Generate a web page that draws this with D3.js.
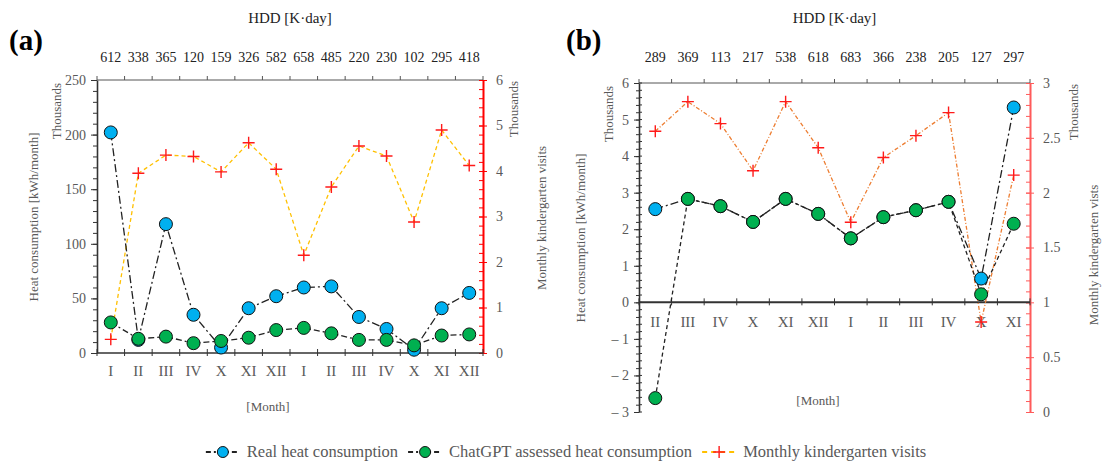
<!DOCTYPE html>
<html>
<head>
<meta charset="utf-8">
<script src="https://cdn.jsdelivr.net/npm/d3@7"></script>
<style>
  body { margin: 0; background: #fff; }
  svg, text { font-family: "Liberation Serif", "Times New Roman", serif; }
</style>
</head>
<body>
<script>
// ---- data: panel (a) ----
const monthsA = ["I", "II", "III", "IV", "X", "XI", "XII", "I", "II", "III", "IV", "X", "XI", "XII"];
const hddA = [612, 338, 365, 120, 159, 326, 582, 658, 485, 220, 230, 102, 295, 418];
const realA = [202, 12, 118, 35, 5, 41, 52, 60, 61, 33, 22, 3, 41, 55];
const gptA = [28, 13, 15, 9, 11, 14, 21, 23, 18, 12, 12, 7, 16, 17];
const visitsA = [0.3, 3.95, 4.35, 4.32, 3.98, 4.62, 4.04, 2.15, 3.65, 4.55, 4.33, 2.88, 4.9, 4.12];

// ---- data: panel (b) ----
const monthsB = ["II", "III", "IV", "X", "XI", "XII", "I", "II", "III", "IV", "X", "XI"];
const hddB = [289, 369, 113, 217, 538, 618, 683, 366, 238, 205, 127, 297];
const realB = [2.55, 2.83, 2.63, 2.2, 2.83, 2.42, 1.75, 2.33, 2.52, 2.75, 0.65, 5.33];
const gptB = [-2.62, 2.83, 2.63, 2.2, 2.83, 2.42, 1.75, 2.33, 2.52, 2.75, 0.22, 2.15];
const visitsB = [2.56, 2.83, 2.63, 2.2, 2.83, 2.41, 1.73, 2.32, 2.52, 2.73, 0.82, 2.16];

const legendLabels = ["Real heat consumption", "ChatGPT assessed heat consumption", "Monthly kindergarten visits"];

var svg = d3.select("body").append("svg")
    .attr("width", 1102)
    .attr("height", 461);

var grey = "#595959";
var serif = "Liberation Serif";

function cross(g, color) {
    g.append("path")
        .attr("d", "M-6,0H6M0,-6V6")
        .attr("stroke", color)
        .attr("stroke-width", 1.4);
}

function drawPanel(p) {
    var x = d3.scaleBand()
        .domain(d3.range(p.months.length))
        .range([p.left, p.right]);
    var y = d3.scaleLinear().domain(p.yDomain).range([p.bottom, p.top]);
    var y2 = d3.scaleLinear().domain(p.y2Domain).range([p.bottom, p.top]);
    var cx = function(d, i) { return x(i) + x.bandwidth() / 2; };

    var g = svg.append("g");

    // panel letter
    g.append("text")
        .attr("x", p.letterX).attr("y", 50)
        .style("font-size", "29px").style("font-weight", "bold")
        .text(p.letter);

    // HDD title + values on top
    g.append("text")
        .attr("x", (p.left + p.right) / 2).attr("y", 23)
        .attr("text-anchor", "middle")
        .style("font-size", "15px").attr("fill", "#222")
        .text("HDD [K·day]");

    g.selectAll(".hdd").data(p.hdd).enter().append("text")
        .attr("x", cx).attr("y", 62)
        .attr("text-anchor", "middle")
        .style("font-size", "14px").attr("fill", "#222")
        .text(function(d) { return d; });

    // top axis (HDD) line with ticks at band edges
    var edges = d3.range(p.months.length + 1).map(function(i) {
        return i < p.months.length ? x(i) : p.right;
    });
    g.append("line")
        .attr("x1", p.left).attr("x2", p.right)
        .attr("y1", p.top).attr("y2", p.top)
        .attr("stroke", "#555").attr("stroke-width", 1);
    g.selectAll(".ttick").data(edges).enter().append("line")
        .attr("x1", function(d) { return d; }).attr("x2", function(d) { return d; })
        .attr("y1", p.top - 4).attr("y2", p.top)
        .attr("stroke", "#555");

    // left axis: minor ticks, then major ticks with labels
    var left = g.append("g").attr("transform", "translate(" + p.left + ",0)")
        .call(d3.axisLeft(y).tickValues(d3.range(p.yDomain[0], p.yDomain[1] + 0.001, p.minorStep))
            .tickSize(p.leftTick).tickFormat(""));
    left.select(".domain").remove();
    left.selectAll("line").attr("stroke", "#333");
    var leftMajor = g.append("g").attr("transform", "translate(" + p.left + ",0)")
        .call(d3.axisLeft(y).tickValues(d3.range(p.yDomain[0], p.yDomain[1] + 0.001, p.majorStep))
            .tickSize(p.leftTick + 2).tickSizeOuter(0).tickPadding(5)
            .tickFormat(function(d) { return d < 0 ? "\u2013 " + Math.abs(d) : d; }));
    leftMajor.selectAll("line").attr("stroke", "#333");
    leftMajor.select(".domain").attr("stroke", "#333").attr("stroke-width", 1.6);
    leftMajor.selectAll("text").attr("fill", grey).style("font-size", "14px").style("font-family", serif);
    if (p.crossTicks) {
        g.selectAll(".ctick").data(d3.range(p.yDomain[0], p.yDomain[1] + 0.001, p.minorStep)).enter().append("line")
            .attr("x1", p.left).attr("x2", p.left + 3)
            .attr("y1", function(d) { return y(d); }).attr("y2", function(d) { return y(d); })
            .attr("stroke", "#333");
    }

    // right axis (visits)
    var right = g.append("g").attr("transform", "translate(" + p.right + ",0)")
        .call(d3.axisRight(y2).tickValues(d3.range(p.y2Domain[0], p.y2Domain[1] + 0.001, p.y2Minor))
            .tickSize(-4).tickSizeOuter(0).tickFormat(""));
    var rightMajor = g.append("g").attr("transform", "translate(" + p.right + ",0)")
        .call(d3.axisRight(y2).tickValues(d3.range(p.y2Domain[0], p.y2Domain[1] + 0.001, p.y2Major))
            .tickSize(-5).tickSizeOuter(0).tickPadding(13)
            .tickFormat(function(d) { return d3.format("~g")(d); }));
    right.selectAll("line").attr("stroke", p.redAxis);
    right.select(".domain").attr("stroke", p.redAxis).attr("stroke-width", 1.6);
    rightMajor.selectAll("line").attr("stroke", p.redAxis).attr("x2", 4).attr("x1", -4);
    rightMajor.select(".domain").attr("stroke", p.redAxis).attr("stroke-width", 1.6);
    rightMajor.selectAll("text").attr("fill", grey).style("font-size", "14px").style("font-family", serif);

    // category axis
    var y0 = y(p.xAxisAt);
    g.append("line")
        .attr("x1", p.left).attr("x2", p.right)
        .attr("y1", y0).attr("y2", y0)
        .attr("stroke", "#333").attr("stroke-width", p.xAxisWidth);
    g.selectAll(".btick").data(edges).enter().append("line")
        .attr("x1", function(d) { return d; }).attr("x2", function(d) { return d; })
        .attr("y1", y0 - 4).attr("y2", y0 + 3)
        .attr("stroke", "#333");
    g.selectAll(".mlab").data(p.months).enter().append("text")
        .attr("x", cx).attr("y", y0 + p.monthDy)
        .attr("text-anchor", "middle")
        .style("font-size", "15px").attr("fill", grey)
        .text(function(d) { return d; });
    g.append("text")
        .attr("x", p.monthTitleX).attr("y", p.monthTitleY)
        .attr("text-anchor", "middle")
        .style("font-size", "13px").attr("fill", grey)
        .text("[Month]");

    // axis titles
    function vtitle(tx, ty, txt) {
        g.append("text")
            .attr("transform", "translate(" + tx + "," + ty + ") rotate(-90)")
            .attr("text-anchor", "middle")
            .attr("dy", "0.35em")
            .style("font-size", "13px").attr("fill", grey)
            .text(txt);
    }
    vtitle(p.left - p.leftThousands, p.top + 31, "Thousands");
    vtitle(p.leftTitleX, p.leftTitleY, "Heat consumption [kWh/month]");
    vtitle(p.right + p.rightThousands, p.top + 29, "Thousands");
    vtitle(p.rightTitleX, p.rightTitleY, p.rightTitle);

    // lines
    var lineY = d3.line().x(cx).y(function(d) { return y(d); });
    var lineY2 = d3.line().x(cx).y(function(d) { return y2(d); });

    g.append("path").datum(p.visits)
        .attr("d", lineY2).attr("fill", "none")
        .attr("stroke", p.visitColor).attr("stroke-width", 1.3)
        .attr("stroke-dasharray", p.visitDash);
    g.append("path").datum(p.real)
        .attr("d", lineY).attr("fill", "none")
        .attr("stroke", "#222").attr("stroke-width", 1.3)
        .attr("stroke-dasharray", "8,3,2,3");
    g.append("path").datum(p.gpt)
        .attr("d", lineY).attr("fill", "none")
        .attr("stroke", "#222").attr("stroke-width", 1.3)
        .attr("stroke-dasharray", p.gptDash);

    // markers
    g.selectAll(".vis").data(p.visits).enter().append("g")
        .attr("transform", function(d, i) { return "translate(" + cx(d, i) + "," + y2(d) + ")"; })
        .each(function() { cross(d3.select(this), "#FF1A1A"); });
    g.selectAll(".real").data(p.real).enter().append("circle")
        .attr("cx", cx).attr("cy", function(d) { return y(d); })
        .attr("r", 6.5).attr("fill", "#00B0F0").attr("stroke", "#111").attr("stroke-width", 1);
    g.selectAll(".gpt").data(p.gpt).enter().append("circle")
        .attr("cx", cx).attr("cy", function(d) { return y(d); })
        .attr("r", 6.5).attr("fill", "#00B050").attr("stroke", "#111").attr("stroke-width", 1);
}

drawPanel({
    letter: "(a)", letterX: 9,
    months: monthsA, hdd: hddA, real: realA, gpt: gptA, visits: visitsA,
    left: 97, right: 483, top: 80, bottom: 353,
    yDomain: [0, 250], majorStep: 50, minorStep: 10, leftTick: 4, crossTicks: false,
    y2Domain: [0, 6], y2Major: 1, y2Minor: 0.2, redAxis: "#FF0000",
    xAxisAt: 0, xAxisWidth: 1.6, monthDy: 23,
    monthTitleX: 268, monthTitleY: 411,
    leftThousands: 41, rightThousands: 30,
    leftTitleX: 33, leftTitleY: 217,
    rightTitleX: 541, rightTitleY: 218, rightTitle: "Monthly kindergarten visits",
    visitColor: "#FFC000", visitDash: "4,3", gptDash: "6,3,2,3"
});

drawPanel({
    letter: "(b)", letterX: 566,
    months: monthsB, hdd: hddB, real: realB, gpt: gptB, visits: visitsB,
    left: 639, right: 1030, top: 83, bottom: 412,
    yDomain: [-3, 6], majorStep: 1, minorStep: 0.2, leftTick: 3, crossTicks: true,
    y2Domain: [0, 3], y2Major: 0.5, y2Minor: 0.1, redAxis: "#FF5A5A",
    xAxisAt: 0, xAxisWidth: 2, monthDy: 25,
    monthTitleX: 818, monthTitleY: 405,
    leftThousands: 31, rightThousands: 43,
    leftTitleX: 580, leftTitleY: 238,
    rightTitleX: 1093, rightTitleY: 255, rightTitle: "Monthly kindergarten vists",
    visitColor: "#ED7D31", visitDash: "4,2,1,2", gptDash: "4,3"
});

// legend, centred below both panels
var legend = svg.append("g").attr("transform", "translate(0,452)");
var types = ["real", "gpt", "visits"];
var cursor = 0;
var groups = types.map(function(t, i) {
    var lg = legend.append("g");
    if (t === "visits") {
        lg.append("line").attr("x1", 0).attr("x2", 34).attr("y1", 0).attr("y2", 0)
            .attr("stroke", "#FFC000").attr("stroke-width", 2).attr("stroke-dasharray", "5,4");
        cross(lg.append("g").attr("transform", "translate(17,0)"), "#FF1A1A");
    } else {
        lg.append("line").attr("x1", 0).attr("x2", 34).attr("y1", 0).attr("y2", 0)
            .attr("stroke", "#222").attr("stroke-width", 2).attr("stroke-dasharray", "5,3,2,3");
        lg.append("circle").attr("cx", 17).attr("cy", 0).attr("r", 5.5)
            .attr("fill", t === "real" ? "#00B0F0" : "#00B050")
            .attr("stroke", "#111").attr("stroke-width", 1);
    }
    var txt = lg.append("text").attr("x", 41).attr("y", 5)
        .style("font-size", "16.5px").attr("fill", grey)
        .text(legendLabels[i]);
    var w = 41 + txt.node().getComputedTextLength();
    var start = cursor;
    cursor += w + 10;
    return {g: lg, x: start};
});
var total = cursor - 10;
var startX = 566 - total / 2;
groups.forEach(function(o) {
    o.g.attr("transform", "translate(" + (startX + o.x) + ",0)");
});
</script>
</body>
</html>
